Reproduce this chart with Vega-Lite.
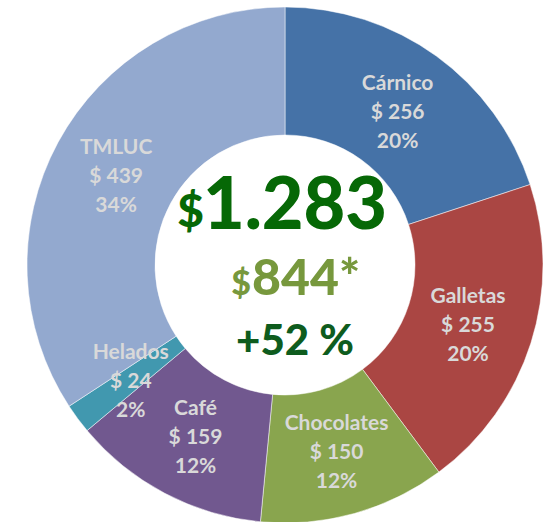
{
  "$schema": "https://vega.github.io/schema/vega-lite/v6.json",
  "width": 516,
  "height": 516,
  "autosize": "none",
  "padding": {"left": 27, "top": 7, "right": 0, "bottom": 0},
  "background": "white",
  "config": {"view": {"stroke": null}},
  "layer": [
    {
      "data": {"name": "cats", "values": [
        {"i": 1, "name": "Cárnico", "value": 256, "money": "$ 256", "pct": "20%"},
        {"i": 2, "name": "Galletas", "value": 255, "money": "$ 255", "pct": "20%"},
        {"i": 3, "name": "Chocolates", "value": 150, "money": "$ 150", "pct": "12%"},
        {"i": 4, "name": "Café", "value": 159, "money": "$ 159", "pct": "12%"},
        {"i": 5, "name": "Helados", "value": 24, "money": "$ 24", "pct": "2%"},
        {"i": 6, "name": "TMLUC", "value": 439, "money": "$ 439", "pct": "34%"}
      ]},
      "encoding": {
        "theta": {"field": "value", "type": "quantitative", "stack": true},
        "order": {"field": "i", "type": "quantitative"}
      },
      "layer": [
        {
          "mark": {"type": "arc", "outerRadius": 258, "innerRadius": 130, "stroke": "white", "strokeWidth": 0.5},
          "encoding": {
            "color": {"field": "name", "type": "nominal", "legend": null,
              "scale": {"domain": ["Cárnico", "Galletas", "Chocolates", "Café", "Helados", "TMLUC"],
                        "range": ["#4572A7", "#AA4643", "#89A54E", "#71588F", "#4198AF", "#93A9CF"]}}
          }
        },
        {
          "mark": {"type": "text", "radius": 192, "dy": -26, "font": "Lato", "fontWeight": "bold", "fontSize": 21, "fill": "#D9D9D9"},
          "encoding": {"text": {"field": "name"}}
        },
        {
          "mark": {"type": "text", "radius": 192, "dy": 3, "font": "Lato", "fontWeight": "bold", "fontSize": 21, "fill": "#D9D9D9"},
          "encoding": {"text": {"field": "money"}}
        },
        {
          "mark": {"type": "text", "radius": 192, "dy": 32, "font": "Lato", "fontWeight": "bold", "fontSize": 21, "fill": "#D9D9D9"},
          "encoding": {"text": {"field": "pct"}}
        }
      ]
    },
    {
      "data": {"values": [{"t": "1.283"}]},
      "mark": {"type": "text", "align": "center", "baseline": "alphabetic", "dx": 10, "dy": -36, "font": "Lato", "fontWeight": 900, "fontSize": 72, "fill": "#066806"},
      "encoding": {"text": {"field": "t"}}
    },
    {
      "data": {"values": [{"t": "$"}]},
      "mark": {"type": "text", "align": "right", "baseline": "alphabetic", "dx": -81, "dy": -38, "font": "Lato", "fontWeight": 900, "fontSize": 46, "fill": "#066806"},
      "encoding": {"text": {"field": "t"}}
    },
    {
      "data": {"values": [{"t": "844*"}]},
      "mark": {"type": "text", "align": "left", "baseline": "alphabetic", "dx": -33, "dy": 30, "font": "Lato", "fontWeight": 900, "fontSize": 50, "fill": "#77983D"},
      "encoding": {"text": {"field": "t"}}
    },
    {
      "data": {"values": [{"t": "$"}]},
      "mark": {"type": "text", "align": "right", "baseline": "alphabetic", "dx": -34, "dy": 30, "font": "Lato", "fontWeight": 900, "fontSize": 34, "fill": "#77983D"},
      "encoding": {"text": {"field": "t"}}
    },
    {
      "data": {"values": [{"t": "+52 %"}]},
      "mark": {"type": "text", "align": "center", "baseline": "alphabetic", "dx": 10, "dy": 90, "font": "Lato", "fontWeight": 900, "fontSize": 42, "fill": "#0E5C1E"},
      "encoding": {"text": {"field": "t"}}
    }
  ]
}
